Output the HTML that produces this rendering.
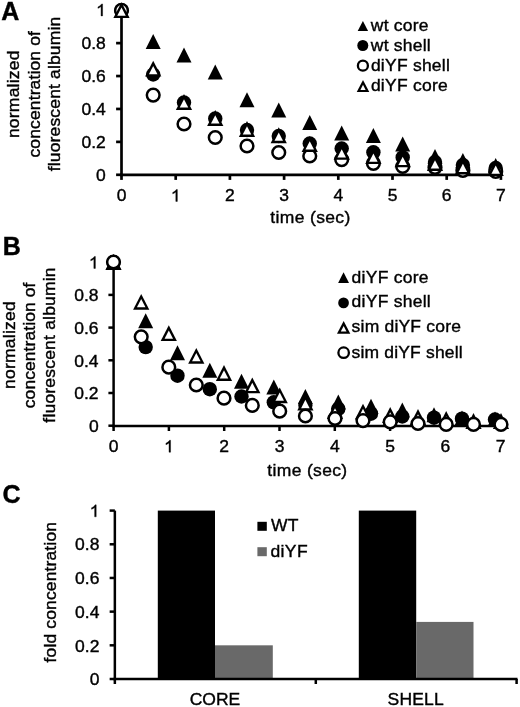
<!DOCTYPE html>
<html><head><meta charset="utf-8"><style>
html,body{margin:0;padding:0;background:#fff;width:520px;height:707px;overflow:hidden}
svg{display:block;will-change:transform}
text{font-family:"Liberation Sans", sans-serif;fill:#000;stroke:#000;stroke-width:0.4px}
</style></head><body>
<svg width="520" height="707" viewBox="0 0 520 707">
<text transform="translate(1.30,19.60) scale(1,1.0)" font-size="25" font-weight="bold" text-anchor="start">A</text>
<text transform="translate(19.30,94.30) rotate(-90) scale(1,0.95)" font-size="17.5" text-anchor="middle" textLength="87.61" lengthAdjust="spacing">normalized</text>
<text transform="translate(40.40,94.30) rotate(-90) scale(1,0.95)" font-size="17.5" text-anchor="middle" textLength="126.43" lengthAdjust="spacing">concentration of</text>
<text transform="translate(60.20,94.00) rotate(-90) scale(1,0.95)" font-size="17.5" text-anchor="middle" textLength="154.50" lengthAdjust="spacing">fluorescent albumin</text>
<line x1="121.50" y1="10.20" x2="121.50" y2="176.15" stroke="#000" stroke-width="2.7"/>
<line x1="120.15" y1="174.80" x2="501.30" y2="174.80" stroke="#000" stroke-width="2.7"/>
<line x1="116.10" y1="174.80" x2="121.50" y2="174.80" stroke="#000" stroke-width="2.7"/>
<text transform="translate(105.80,180.50) scale(1,0.95)" font-size="17.5" font-weight="normal" text-anchor="end">0</text>
<line x1="116.10" y1="141.88" x2="121.50" y2="141.88" stroke="#000" stroke-width="2.7"/>
<text transform="translate(105.80,147.58) scale(1,0.95)" font-size="17.5" font-weight="normal" text-anchor="end">0.2</text>
<line x1="116.10" y1="108.96" x2="121.50" y2="108.96" stroke="#000" stroke-width="2.7"/>
<text transform="translate(105.80,114.66) scale(1,0.95)" font-size="17.5" font-weight="normal" text-anchor="end">0.4</text>
<line x1="116.10" y1="76.04" x2="121.50" y2="76.04" stroke="#000" stroke-width="2.7"/>
<text transform="translate(105.80,81.74) scale(1,0.95)" font-size="17.5" font-weight="normal" text-anchor="end">0.6</text>
<line x1="116.10" y1="43.12" x2="121.50" y2="43.12" stroke="#000" stroke-width="2.7"/>
<text transform="translate(105.80,48.82) scale(1,0.95)" font-size="17.5" font-weight="normal" text-anchor="end">0.8</text>
<line x1="116.10" y1="10.20" x2="121.50" y2="10.20" stroke="#000" stroke-width="2.7"/>
<path d="M102.59,15.90 L101.05,15.90 L101.05,6.59 Q100.49,7.09 99.59,7.60 Q98.68,8.10 97.96,8.35 L97.96,6.94 Q99.25,6.36 100.22,5.54 Q101.19,4.72 101.59,3.95 L102.59,3.95 Z" fill="#000" stroke="#000" stroke-width="0.4"/>
<line x1="121.50" y1="174.80" x2="121.50" y2="179.90" stroke="#000" stroke-width="2.7"/>
<text transform="translate(121.50,201.40) scale(1,0.95)" font-size="17.5" font-weight="normal" text-anchor="middle">0</text>
<line x1="175.70" y1="174.80" x2="175.70" y2="179.90" stroke="#000" stroke-width="2.7"/>
<path d="M177.35,201.40 L175.82,201.40 L175.82,192.09 Q175.26,192.59 174.35,193.10 Q173.45,193.60 172.73,193.85 L172.73,192.44 Q174.02,191.86 174.99,191.04 Q175.95,190.22 176.35,189.45 L177.35,189.45 Z" fill="#000" stroke="#000" stroke-width="0.4"/>
<line x1="229.90" y1="174.80" x2="229.90" y2="179.90" stroke="#000" stroke-width="2.7"/>
<text transform="translate(229.90,201.40) scale(1,0.95)" font-size="17.5" font-weight="normal" text-anchor="middle">2</text>
<line x1="284.10" y1="174.80" x2="284.10" y2="179.90" stroke="#000" stroke-width="2.7"/>
<text transform="translate(284.10,201.40) scale(1,0.95)" font-size="17.5" font-weight="normal" text-anchor="middle">3</text>
<line x1="338.30" y1="174.80" x2="338.30" y2="179.90" stroke="#000" stroke-width="2.7"/>
<text transform="translate(338.30,201.40) scale(1,0.95)" font-size="17.5" font-weight="normal" text-anchor="middle">4</text>
<line x1="392.50" y1="174.80" x2="392.50" y2="179.90" stroke="#000" stroke-width="2.7"/>
<text transform="translate(392.50,201.40) scale(1,0.95)" font-size="17.5" font-weight="normal" text-anchor="middle">5</text>
<line x1="446.70" y1="174.80" x2="446.70" y2="179.90" stroke="#000" stroke-width="2.7"/>
<text transform="translate(446.70,201.40) scale(1,0.95)" font-size="17.5" font-weight="normal" text-anchor="middle">6</text>
<line x1="500.90" y1="174.80" x2="500.90" y2="179.90" stroke="#000" stroke-width="2.7"/>
<text transform="translate(500.90,201.40) scale(1,0.95)" font-size="17.5" font-weight="normal" text-anchor="middle">7</text>
<text transform="translate(310.30,222.70) scale(1,0.95)" font-size="17.5" font-weight="normal" text-anchor="middle" textLength="80.01" lengthAdjust="spacing">time (sec)</text>
<polygon points="362.90,21.10 357.70,30.90 368.10,30.90" fill="#000"/>
<text transform="translate(370.80,30.80) scale(1,0.95)" font-size="17.5" font-weight="normal" text-anchor="start" textLength="57.71" lengthAdjust="spacing">wt core</text>
<circle cx="362.80" cy="45.50" r="5.50" fill="#000"/>
<text transform="translate(370.80,51.10) scale(1,0.95)" font-size="17.5" font-weight="normal" text-anchor="start" textLength="59.96" lengthAdjust="spacing">wt shell</text>
<circle cx="362.90" cy="65.70" r="5.00" fill="#fff" stroke="#000" stroke-width="2.3"/>
<text transform="translate(370.90,71.40) scale(1,0.95)" font-size="17.5" font-weight="normal" text-anchor="start" textLength="78.94" lengthAdjust="spacing">diYF shell</text>
<polygon points="363.00,79.90 356.75,92.10 369.25,92.10" fill="#000"/>
<polygon points="363.00,84.73 360.35,89.90 365.65,89.90" fill="#fff"/>
<text transform="translate(370.90,91.30) scale(1,0.95)" font-size="17.5" font-weight="normal" text-anchor="start" textLength="76.89" lengthAdjust="spacing">diYF core</text>
<polygon points="121.50,2.90 114.00,17.90 129.00,17.90" fill="#000"/>
<polygon points="153.20,34.10 145.70,49.10 160.70,49.10" fill="#000"/>
<polygon points="184.00,47.50 176.50,62.50 191.50,62.50" fill="#000"/>
<polygon points="215.25,64.50 207.75,79.50 222.75,79.50" fill="#000"/>
<polygon points="247.00,92.25 239.50,107.25 254.50,107.25" fill="#000"/>
<polygon points="278.75,102.50 271.25,117.50 286.25,117.50" fill="#000"/>
<polygon points="309.75,115.00 302.25,130.00 317.25,130.00" fill="#000"/>
<polygon points="341.70,125.60 334.20,140.60 349.20,140.60" fill="#000"/>
<polygon points="373.40,128.10 365.90,143.10 380.90,143.10" fill="#000"/>
<polygon points="402.70,136.50 395.20,151.50 410.20,151.50" fill="#000"/>
<polygon points="435.00,148.90 427.50,163.90 442.50,163.90" fill="#000"/>
<polygon points="462.90,152.90 455.40,167.90 470.40,167.90" fill="#000"/>
<polygon points="495.70,158.10 488.20,173.10 503.20,173.10" fill="#000"/>
<circle cx="121.50" cy="10.40" r="7.20" fill="#000"/>
<circle cx="153.20" cy="74.50" r="7.20" fill="#000"/>
<circle cx="184.00" cy="102.50" r="7.20" fill="#000"/>
<circle cx="215.25" cy="118.50" r="7.20" fill="#000"/>
<circle cx="247.00" cy="130.00" r="7.20" fill="#000"/>
<circle cx="278.75" cy="136.00" r="7.20" fill="#000"/>
<circle cx="309.75" cy="143.50" r="7.20" fill="#000"/>
<circle cx="341.70" cy="148.50" r="7.20" fill="#000"/>
<circle cx="373.40" cy="152.30" r="7.20" fill="#000"/>
<circle cx="402.70" cy="157.40" r="7.20" fill="#000"/>
<circle cx="435.00" cy="162.00" r="7.20" fill="#000"/>
<circle cx="462.90" cy="165.00" r="7.20" fill="#000"/>
<circle cx="495.70" cy="168.00" r="7.20" fill="#000"/>
<circle cx="121.50" cy="10.40" r="6.35" fill="#fff" stroke="#000" stroke-width="2.5"/>
<circle cx="153.20" cy="95.10" r="6.35" fill="#fff" stroke="#000" stroke-width="2.5"/>
<circle cx="184.00" cy="124.00" r="6.35" fill="#fff" stroke="#000" stroke-width="2.5"/>
<circle cx="215.25" cy="137.50" r="6.35" fill="#fff" stroke="#000" stroke-width="2.5"/>
<circle cx="247.00" cy="146.00" r="6.35" fill="#fff" stroke="#000" stroke-width="2.5"/>
<circle cx="278.75" cy="152.50" r="6.35" fill="#fff" stroke="#000" stroke-width="2.5"/>
<circle cx="309.75" cy="156.00" r="6.35" fill="#fff" stroke="#000" stroke-width="2.5"/>
<circle cx="341.70" cy="159.60" r="6.35" fill="#fff" stroke="#000" stroke-width="2.5"/>
<circle cx="373.40" cy="163.30" r="6.35" fill="#fff" stroke="#000" stroke-width="2.5"/>
<circle cx="402.70" cy="166.50" r="6.35" fill="#fff" stroke="#000" stroke-width="2.5"/>
<circle cx="435.00" cy="167.50" r="6.35" fill="#fff" stroke="#000" stroke-width="2.5"/>
<circle cx="462.90" cy="170.50" r="6.35" fill="#fff" stroke="#000" stroke-width="2.5"/>
<circle cx="495.70" cy="171.50" r="6.35" fill="#fff" stroke="#000" stroke-width="2.5"/>
<polygon points="121.50,2.30 113.40,18.10 129.60,18.10" fill="#000"/>
<polygon points="121.50,7.45 117.25,15.75 125.75,15.75" fill="#fff"/>
<polygon points="153.20,60.80 145.10,76.60 161.30,76.60" fill="#000"/>
<polygon points="153.20,65.95 148.95,74.25 157.45,74.25" fill="#fff"/>
<polygon points="184.00,94.10 175.90,109.90 192.10,109.90" fill="#000"/>
<polygon points="184.00,99.25 179.75,107.55 188.25,107.55" fill="#fff"/>
<polygon points="215.25,110.10 207.15,125.90 223.35,125.90" fill="#000"/>
<polygon points="215.25,115.25 211.00,123.55 219.50,123.55" fill="#fff"/>
<polygon points="247.00,121.10 238.90,136.90 255.10,136.90" fill="#000"/>
<polygon points="247.00,126.25 242.75,134.55 251.25,134.55" fill="#fff"/>
<polygon points="278.75,127.35 270.65,143.15 286.85,143.15" fill="#000"/>
<polygon points="278.75,132.50 274.50,140.80 283.00,140.80" fill="#fff"/>
<polygon points="309.75,136.10 301.65,151.90 317.85,151.90" fill="#000"/>
<polygon points="309.75,141.25 305.50,149.55 314.00,149.55" fill="#fff"/>
<polygon points="341.70,144.00 333.60,159.80 349.80,159.80" fill="#000"/>
<polygon points="341.70,149.15 337.45,157.45 345.95,157.45" fill="#fff"/>
<polygon points="373.40,148.30 365.30,164.10 381.50,164.10" fill="#000"/>
<polygon points="373.40,153.45 369.15,161.75 377.65,161.75" fill="#fff"/>
<polygon points="402.70,151.50 394.60,167.30 410.80,167.30" fill="#000"/>
<polygon points="402.70,156.65 398.45,164.95 406.95,164.95" fill="#fff"/>
<polygon points="435.00,155.10 426.90,170.90 443.10,170.90" fill="#000"/>
<polygon points="435.00,160.25 430.75,168.55 439.25,168.55" fill="#fff"/>
<polygon points="462.90,158.60 454.80,174.40 471.00,174.40" fill="#000"/>
<polygon points="462.90,163.75 458.65,172.05 467.15,172.05" fill="#fff"/>
<polygon points="495.70,160.30 487.60,176.10 503.80,176.10" fill="#000"/>
<polygon points="495.70,165.45 491.45,173.75 499.95,173.75" fill="#fff"/>
<text transform="translate(2.80,254.50) scale(1,1.0)" font-size="25" font-weight="bold" text-anchor="start">B</text>
<text transform="translate(14.60,345.15) rotate(-90) scale(1,0.95)" font-size="17.5" text-anchor="middle" textLength="87.71" lengthAdjust="spacing">normalized</text>
<text transform="translate(35.40,345.40) rotate(-90) scale(1,0.95)" font-size="17.5" text-anchor="middle" textLength="125.73" lengthAdjust="spacing">concentration of</text>
<text transform="translate(55.40,345.05) rotate(-90) scale(1,0.95)" font-size="17.5" text-anchor="middle" textLength="155.25" lengthAdjust="spacing">fluorescent albumin</text>
<line x1="113.60" y1="262.20" x2="113.60" y2="427.25" stroke="#000" stroke-width="2.5"/>
<line x1="112.35" y1="426.00" x2="501.50" y2="426.00" stroke="#000" stroke-width="2.5"/>
<line x1="108.40" y1="425.70" x2="113.60" y2="425.70" stroke="#000" stroke-width="2.5"/>
<text transform="translate(98.60,431.90) scale(1,0.95)" font-size="17.5" font-weight="normal" text-anchor="end">0</text>
<line x1="108.40" y1="393.00" x2="113.60" y2="393.00" stroke="#000" stroke-width="2.5"/>
<text transform="translate(98.60,399.20) scale(1,0.95)" font-size="17.5" font-weight="normal" text-anchor="end">0.2</text>
<line x1="108.40" y1="360.30" x2="113.60" y2="360.30" stroke="#000" stroke-width="2.5"/>
<text transform="translate(98.60,366.50) scale(1,0.95)" font-size="17.5" font-weight="normal" text-anchor="end">0.4</text>
<line x1="108.40" y1="327.60" x2="113.60" y2="327.60" stroke="#000" stroke-width="2.5"/>
<text transform="translate(98.60,333.80) scale(1,0.95)" font-size="17.5" font-weight="normal" text-anchor="end">0.6</text>
<line x1="108.40" y1="294.90" x2="113.60" y2="294.90" stroke="#000" stroke-width="2.5"/>
<text transform="translate(98.60,301.10) scale(1,0.95)" font-size="17.5" font-weight="normal" text-anchor="end">0.8</text>
<line x1="108.40" y1="262.20" x2="113.60" y2="262.20" stroke="#000" stroke-width="2.5"/>
<path d="M95.39,268.40 L93.85,268.40 L93.85,259.09 Q93.29,259.59 92.39,260.10 Q91.48,260.60 90.76,260.85 L90.76,259.44 Q92.05,258.86 93.02,258.04 Q93.99,257.22 94.39,256.45 L95.39,256.45 Z" fill="#000" stroke="#000" stroke-width="0.4"/>
<line x1="113.60" y1="426.00" x2="113.60" y2="431.00" stroke="#000" stroke-width="2.5"/>
<text transform="translate(113.60,452.20) scale(1,0.95)" font-size="17.5" font-weight="normal" text-anchor="middle">0</text>
<line x1="168.90" y1="426.00" x2="168.90" y2="431.00" stroke="#000" stroke-width="2.5"/>
<path d="M170.55,452.20 L169.02,452.20 L169.02,442.89 Q168.46,443.39 167.55,443.90 Q166.65,444.40 165.93,444.65 L165.93,443.24 Q167.22,442.66 168.19,441.84 Q169.15,441.02 169.55,440.25 L170.55,440.25 Z" fill="#000" stroke="#000" stroke-width="0.4"/>
<line x1="224.20" y1="426.00" x2="224.20" y2="431.00" stroke="#000" stroke-width="2.5"/>
<text transform="translate(224.20,452.20) scale(1,0.95)" font-size="17.5" font-weight="normal" text-anchor="middle">2</text>
<line x1="279.50" y1="426.00" x2="279.50" y2="431.00" stroke="#000" stroke-width="2.5"/>
<text transform="translate(279.50,452.20) scale(1,0.95)" font-size="17.5" font-weight="normal" text-anchor="middle">3</text>
<line x1="334.80" y1="426.00" x2="334.80" y2="431.00" stroke="#000" stroke-width="2.5"/>
<text transform="translate(334.80,452.20) scale(1,0.95)" font-size="17.5" font-weight="normal" text-anchor="middle">4</text>
<line x1="390.10" y1="426.00" x2="390.10" y2="431.00" stroke="#000" stroke-width="2.5"/>
<text transform="translate(390.10,452.20) scale(1,0.95)" font-size="17.5" font-weight="normal" text-anchor="middle">5</text>
<line x1="445.40" y1="426.00" x2="445.40" y2="431.00" stroke="#000" stroke-width="2.5"/>
<text transform="translate(445.40,452.20) scale(1,0.95)" font-size="17.5" font-weight="normal" text-anchor="middle">6</text>
<line x1="500.70" y1="426.00" x2="500.70" y2="431.00" stroke="#000" stroke-width="2.5"/>
<text transform="translate(500.70,452.20) scale(1,0.95)" font-size="17.5" font-weight="normal" text-anchor="middle">7</text>
<text transform="translate(307.20,476.00) scale(1,0.95)" font-size="17.5" font-weight="normal" text-anchor="middle" textLength="79.81" lengthAdjust="spacing">time (sec)</text>
<polygon points="343.55,272.30 338.10,283.10 349.00,283.10" fill="#000"/>
<text transform="translate(351.60,282.70) scale(1,0.95)" font-size="17.5" font-weight="normal" text-anchor="start" textLength="76.99" lengthAdjust="spacing">diYF core</text>
<circle cx="343.55" cy="302.90" r="5.35" fill="#000"/>
<text transform="translate(351.60,307.40) scale(1,0.95)" font-size="17.5" font-weight="normal" text-anchor="start" textLength="79.14" lengthAdjust="spacing">diYF shell</text>
<polygon points="343.65,321.10 337.00,333.70 350.30,333.70" fill="#000"/>
<polygon points="343.65,326.03 340.81,331.40 346.49,331.40" fill="#fff"/>
<text transform="translate(351.60,332.40) scale(1,0.95)" font-size="17.5" font-weight="normal" text-anchor="start" textLength="109.37" lengthAdjust="spacing">sim diYF core</text>
<circle cx="343.65" cy="352.70" r="5.25" fill="#fff" stroke="#000" stroke-width="2.3"/>
<text transform="translate(351.60,357.60) scale(1,0.95)" font-size="17.5" font-weight="normal" text-anchor="start" textLength="111.02" lengthAdjust="spacing">sim diYF shell</text>
<polygon points="113.50,254.50 106.00,269.50 121.00,269.50" fill="#000"/>
<polygon points="145.70,313.30 138.20,328.30 153.20,328.30" fill="#000"/>
<polygon points="177.50,345.20 170.00,360.20 185.00,360.20" fill="#000"/>
<polygon points="209.80,362.80 202.30,377.80 217.30,377.80" fill="#000"/>
<polygon points="241.50,373.80 234.00,388.80 249.00,388.80" fill="#000"/>
<polygon points="273.80,379.50 266.30,394.50 281.30,394.50" fill="#000"/>
<polygon points="305.40,389.00 297.90,404.00 312.90,404.00" fill="#000"/>
<polygon points="338.30,394.50 330.80,409.50 345.80,409.50" fill="#000"/>
<polygon points="371.00,398.70 363.50,413.70 378.50,413.70" fill="#000"/>
<polygon points="402.30,402.50 394.80,417.50 409.80,417.50" fill="#000"/>
<polygon points="434.00,407.20 426.50,422.20 441.50,422.20" fill="#000"/>
<polygon points="462.00,410.50 454.50,425.50 469.50,425.50" fill="#000"/>
<polygon points="495.00,411.50 487.50,426.50 502.50,426.50" fill="#000"/>
<circle cx="113.50" cy="262.00" r="7.20" fill="#000"/>
<circle cx="145.70" cy="347.10" r="7.20" fill="#000"/>
<circle cx="177.50" cy="375.70" r="7.20" fill="#000"/>
<circle cx="209.80" cy="389.20" r="7.20" fill="#000"/>
<circle cx="241.50" cy="396.50" r="7.20" fill="#000"/>
<circle cx="273.80" cy="402.30" r="7.20" fill="#000"/>
<circle cx="305.40" cy="405.00" r="7.20" fill="#000"/>
<circle cx="338.30" cy="408.80" r="7.20" fill="#000"/>
<circle cx="371.00" cy="413.70" r="7.20" fill="#000"/>
<circle cx="402.30" cy="416.50" r="7.20" fill="#000"/>
<circle cx="434.00" cy="417.70" r="7.20" fill="#000"/>
<circle cx="462.00" cy="418.70" r="7.20" fill="#000"/>
<circle cx="495.00" cy="419.50" r="7.20" fill="#000"/>
<polygon points="113.50,254.10 105.40,269.90 121.60,269.90" fill="#000"/>
<polygon points="113.50,259.25 109.25,267.55 117.75,267.55" fill="#fff"/>
<polygon points="141.20,293.90 133.10,309.70 149.30,309.70" fill="#000"/>
<polygon points="141.20,299.05 136.95,307.35 145.45,307.35" fill="#fff"/>
<polygon points="168.80,325.30 160.70,341.10 176.90,341.10" fill="#000"/>
<polygon points="168.80,330.45 164.55,338.75 173.05,338.75" fill="#fff"/>
<polygon points="196.30,347.90 188.20,363.70 204.40,363.70" fill="#000"/>
<polygon points="196.30,353.05 192.05,361.35 200.55,361.35" fill="#fff"/>
<polygon points="224.00,365.10 215.90,380.90 232.10,380.90" fill="#000"/>
<polygon points="224.00,370.25 219.75,378.55 228.25,378.55" fill="#fff"/>
<polygon points="252.30,377.50 244.20,393.30 260.40,393.30" fill="#000"/>
<polygon points="252.30,382.65 248.05,390.95 256.55,390.95" fill="#fff"/>
<polygon points="279.70,387.40 271.60,403.20 287.80,403.20" fill="#000"/>
<polygon points="279.70,392.55 275.45,400.85 283.95,400.85" fill="#fff"/>
<polygon points="305.40,394.70 297.30,410.50 313.50,410.50" fill="#000"/>
<polygon points="305.40,399.85 301.15,408.15 309.65,408.15" fill="#fff"/>
<polygon points="335.00,403.10 326.90,418.90 343.10,418.90" fill="#000"/>
<polygon points="335.00,408.25 330.75,416.55 339.25,416.55" fill="#fff"/>
<polygon points="363.00,403.70 354.90,419.50 371.10,419.50" fill="#000"/>
<polygon points="363.00,408.85 358.75,417.15 367.25,417.15" fill="#fff"/>
<polygon points="390.20,407.10 382.10,422.90 398.30,422.90" fill="#000"/>
<polygon points="390.20,412.25 385.95,420.55 394.45,420.55" fill="#fff"/>
<polygon points="418.00,409.10 409.90,424.90 426.10,424.90" fill="#000"/>
<polygon points="418.00,414.25 413.75,422.55 422.25,422.55" fill="#fff"/>
<polygon points="446.20,411.10 438.10,426.90 454.30,426.90" fill="#000"/>
<polygon points="446.20,416.25 441.95,424.55 450.45,424.55" fill="#fff"/>
<polygon points="473.50,413.10 465.40,428.90 481.60,428.90" fill="#000"/>
<polygon points="473.50,418.25 469.25,426.55 477.75,426.55" fill="#fff"/>
<polygon points="501.00,413.10 492.90,428.90 509.10,428.90" fill="#000"/>
<polygon points="501.00,418.25 496.75,426.55 505.25,426.55" fill="#fff"/>
<circle cx="113.50" cy="262.00" r="6.35" fill="#fff" stroke="#000" stroke-width="2.5"/>
<circle cx="141.20" cy="336.80" r="6.35" fill="#fff" stroke="#000" stroke-width="2.5"/>
<circle cx="168.80" cy="367.20" r="6.35" fill="#fff" stroke="#000" stroke-width="2.5"/>
<circle cx="196.30" cy="385.00" r="6.35" fill="#fff" stroke="#000" stroke-width="2.5"/>
<circle cx="224.00" cy="398.20" r="6.35" fill="#fff" stroke="#000" stroke-width="2.5"/>
<circle cx="252.30" cy="405.40" r="6.35" fill="#fff" stroke="#000" stroke-width="2.5"/>
<circle cx="279.70" cy="411.20" r="6.35" fill="#fff" stroke="#000" stroke-width="2.5"/>
<circle cx="305.40" cy="416.00" r="6.35" fill="#fff" stroke="#000" stroke-width="2.5"/>
<circle cx="335.00" cy="418.50" r="6.35" fill="#fff" stroke="#000" stroke-width="2.5"/>
<circle cx="363.00" cy="420.60" r="6.35" fill="#fff" stroke="#000" stroke-width="2.5"/>
<circle cx="390.20" cy="421.80" r="6.35" fill="#fff" stroke="#000" stroke-width="2.5"/>
<circle cx="418.00" cy="423.50" r="6.35" fill="#fff" stroke="#000" stroke-width="2.5"/>
<circle cx="446.20" cy="424.40" r="6.35" fill="#fff" stroke="#000" stroke-width="2.5"/>
<circle cx="473.50" cy="424.40" r="6.35" fill="#fff" stroke="#000" stroke-width="2.5"/>
<circle cx="501.00" cy="424.40" r="6.35" fill="#fff" stroke="#000" stroke-width="2.5"/>
<text transform="translate(2.60,502.60) scale(1,1.0)" font-size="25" font-weight="bold" text-anchor="start">C</text>
<text transform="translate(55.70,592.25) rotate(-90) scale(1,0.95)" font-size="17.5" text-anchor="middle" textLength="140.46" lengthAdjust="spacing">fold concentration</text>
<rect x="157.80" y="510.60" width="57.20" height="168.40" fill="#000"/>
<rect x="215.00" y="645.32" width="57.80" height="33.68" fill="#696969"/>
<rect x="358.80" y="510.60" width="57.40" height="168.40" fill="#000"/>
<rect x="416.20" y="621.91" width="57.30" height="57.09" fill="#696969"/>
<line x1="114.85" y1="510.60" x2="114.85" y2="680.25" stroke="#000" stroke-width="2.5"/>
<line x1="113.60" y1="679.00" x2="517.50" y2="679.00" stroke="#000" stroke-width="2.5"/>
<line x1="109.65" y1="679.00" x2="114.85" y2="679.00" stroke="#000" stroke-width="2.5"/>
<text transform="translate(99.40,685.20) scale(1,0.95)" font-size="17.5" font-weight="normal" text-anchor="end">0</text>
<line x1="109.65" y1="645.32" x2="114.85" y2="645.32" stroke="#000" stroke-width="2.5"/>
<text transform="translate(99.40,651.52) scale(1,0.95)" font-size="17.5" font-weight="normal" text-anchor="end">0.2</text>
<line x1="109.65" y1="611.64" x2="114.85" y2="611.64" stroke="#000" stroke-width="2.5"/>
<text transform="translate(99.40,617.84) scale(1,0.95)" font-size="17.5" font-weight="normal" text-anchor="end">0.4</text>
<line x1="109.65" y1="577.96" x2="114.85" y2="577.96" stroke="#000" stroke-width="2.5"/>
<text transform="translate(99.40,584.16) scale(1,0.95)" font-size="17.5" font-weight="normal" text-anchor="end">0.6</text>
<line x1="109.65" y1="544.28" x2="114.85" y2="544.28" stroke="#000" stroke-width="2.5"/>
<text transform="translate(99.40,550.48) scale(1,0.95)" font-size="17.5" font-weight="normal" text-anchor="end">0.8</text>
<line x1="109.65" y1="510.60" x2="114.85" y2="510.60" stroke="#000" stroke-width="2.5"/>
<path d="M96.19,516.80 L94.65,516.80 L94.65,507.49 Q94.09,507.99 93.19,508.50 Q92.28,509.00 91.56,509.25 L91.56,507.84 Q92.85,507.26 93.82,506.44 Q94.79,505.62 95.19,504.85 L96.19,504.85 Z" fill="#000" stroke="#000" stroke-width="0.4"/>
<line x1="114.85" y1="679.00" x2="114.85" y2="684.00" stroke="#000" stroke-width="2.5"/>
<line x1="315.80" y1="679.00" x2="315.80" y2="684.00" stroke="#000" stroke-width="2.5"/>
<line x1="516.60" y1="679.00" x2="516.60" y2="684.00" stroke="#000" stroke-width="2.5"/>
<text transform="translate(215.00,705.20) scale(1,0.95)" font-size="17.5" font-weight="normal" text-anchor="middle">CORE</text>
<text transform="translate(415.60,705.20) scale(1,0.95)" font-size="17.5" font-weight="normal" text-anchor="middle" textLength="56.15" lengthAdjust="spacing">SHELL</text>
<rect x="257.40" y="521.80" width="9.40" height="9.00" fill="#000"/>
<text transform="translate(270.90,531.40) scale(1,0.95)" font-size="17.5" font-weight="normal" text-anchor="start" textLength="27.52" lengthAdjust="spacing">WT</text>
<rect x="257.40" y="547.20" width="9.40" height="9.00" fill="#696969"/>
<text transform="translate(270.40,556.60) scale(1,0.95)" font-size="17.5" font-weight="normal" text-anchor="start" textLength="37.18" lengthAdjust="spacing">diYF</text>
</svg>
</body></html>
